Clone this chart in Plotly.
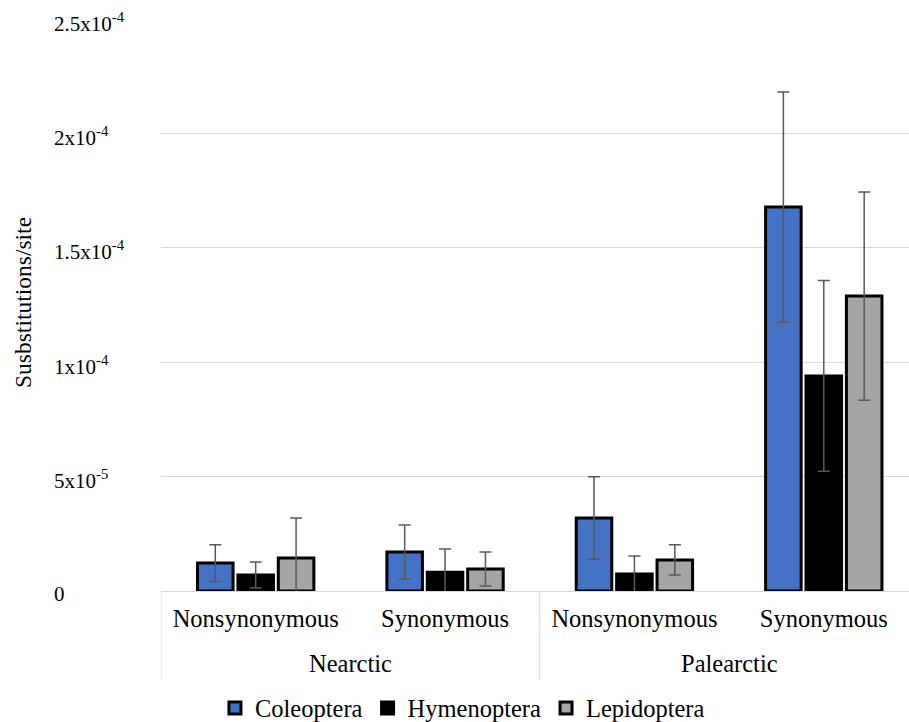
import plotly.graph_objects as go

regions = ["Nearctic", "Palearctic"]
categories = ["Nearctic Nonsynonymous", "Nearctic Synonymous",
              "Palearctic Nonsynonymous", "Palearctic Synonymous"]
site_labels = ["Nonsynonymous", "Synonymous", "Nonsynonymous", "Synonymous"]

series_names = ["Coleoptera", "Hymenoptera", "Lepidoptera"]
coleoptera = [1.22e-5, 1.70e-5, 3.19e-5, 1.678e-4]
coleoptera_err = [8.0e-6, 1.18e-5, 1.80e-5, 5.03e-5]
hymenoptera = [7.0e-6, 8.2e-6, 7.4e-6, 9.4e-5]
hymenoptera_err = [5.7e-6, 1.02e-5, 7.9e-6, 4.17e-5]
lepidoptera = [1.44e-5, 9.6e-6, 1.36e-5, 1.289e-4]
lepidoptera_err = [1.75e-5, 7.4e-6, 6.6e-6, 4.55e-5]

colors = ["#4472C4", "#000000", "#A5A5A5"]

y_tickvals = [0, 5e-5, 1e-4, 1.5e-4, 2e-4, 2.5e-4]
y_ticktext = ["0", "5x10<sup>-5</sup>", "1x10<sup>-4</sup>", "1.5x10<sup>-4</sup>",
              "2x10<sup>-4</sup>", "2.5x10<sup>-4</sup>"]

FONT = "Liberation Serif, Times New Roman, serif"
PLOT_H = 572
X_RANGE = [-0.5, 3.45]

fig = go.Figure()
for name, vals, errs, col in zip(series_names,
                                 [coleoptera, hymenoptera, lepidoptera],
                                 [coleoptera_err, hymenoptera_err, lepidoptera_err],
                                 colors):
    fig.add_trace(go.Bar(
        name=name,
        x=categories,
        y=vals,
        marker=dict(color=col, line=dict(color="#000000", width=3)),
        error_y=dict(type="data", array=errs, visible=True,
                     color="#595959", thickness=1.5, width=6),
    ))

# left-aligned y tick labels
for tv, tt in zip(y_tickvals, y_ticktext):
    fig.add_annotation(
        x=0, xref="paper", xshift=-109, xanchor="left",
        y=tv, yref="y", yanchor="middle", yshift=-3,
        text=tt, showarrow=False,
        font=dict(family=FONT, size=21, color="#000000"),
    )

# group labels
for i, reg in enumerate(regions):
    fig.add_annotation(
        x=2 * i + 0.5, xref="x", y=0, yref="paper", yshift=-72,
        text=reg, showarrow=False, yanchor="middle",
        font=dict(family=FONT, size=24.5, color="#000000"),
    )

# dividers
for xv in [-0.5, 1.5, 3.5]:
    fig.add_shape(type="line", xref="x", yref="paper",
                  x0=xv, x1=xv, y0=0, y1=-89 / PLOT_H,
                  line=dict(color="#D9D9D9", width=1))

# y-axis title
fig.add_annotation(
    x=0, xref="paper", xshift=-138, xanchor="center",
    y=0.5, yref="paper", yshift=2, yanchor="middle",
    text="Susbstitutions/site", textangle=-90, showarrow=False,
    font=dict(family=FONT, size=23.5, color="#000000"),
)

fig.update_layout(
    width=909, height=722,
    margin=dict(l=161, r=0, t=19, b=131, autoexpand=False),
    paper_bgcolor="white", plot_bgcolor="white",
    barmode="group", bargap=0.36, bargroupgap=0.12,
    font=dict(family=FONT, size=24.5, color="#000000"),
    legend=dict(orientation="h", x=0.403, xanchor="center",
                y=-117 / PLOT_H, yanchor="middle",
                font=dict(size=24.5, family=FONT), traceorder="normal",
                itemwidth=30, tracegroupgap=0),
    showlegend=True,
)
fig.update_yaxes(
    range=[0, 2.5e-4], tickvals=y_tickvals,
    showticklabels=False,
    showgrid=True, gridcolor="#D9D9D9", gridwidth=1,
    zeroline=False, showline=False, ticks="",
    automargin=False,
)
fig.update_xaxes(
    type="category", range=X_RANGE,
    tickvals=categories, ticktext=site_labels,
    showline=True, linecolor="#D9D9D9", linewidth=1,
    ticks="", tickfont=dict(size=24.5, family=FONT), ticklabelstandoff=6,
    showgrid=False, automargin=False,
)

fig.write_html("out.html", config={"displayModeBar": False},
               post_script="document.body.style.margin='0px';")
